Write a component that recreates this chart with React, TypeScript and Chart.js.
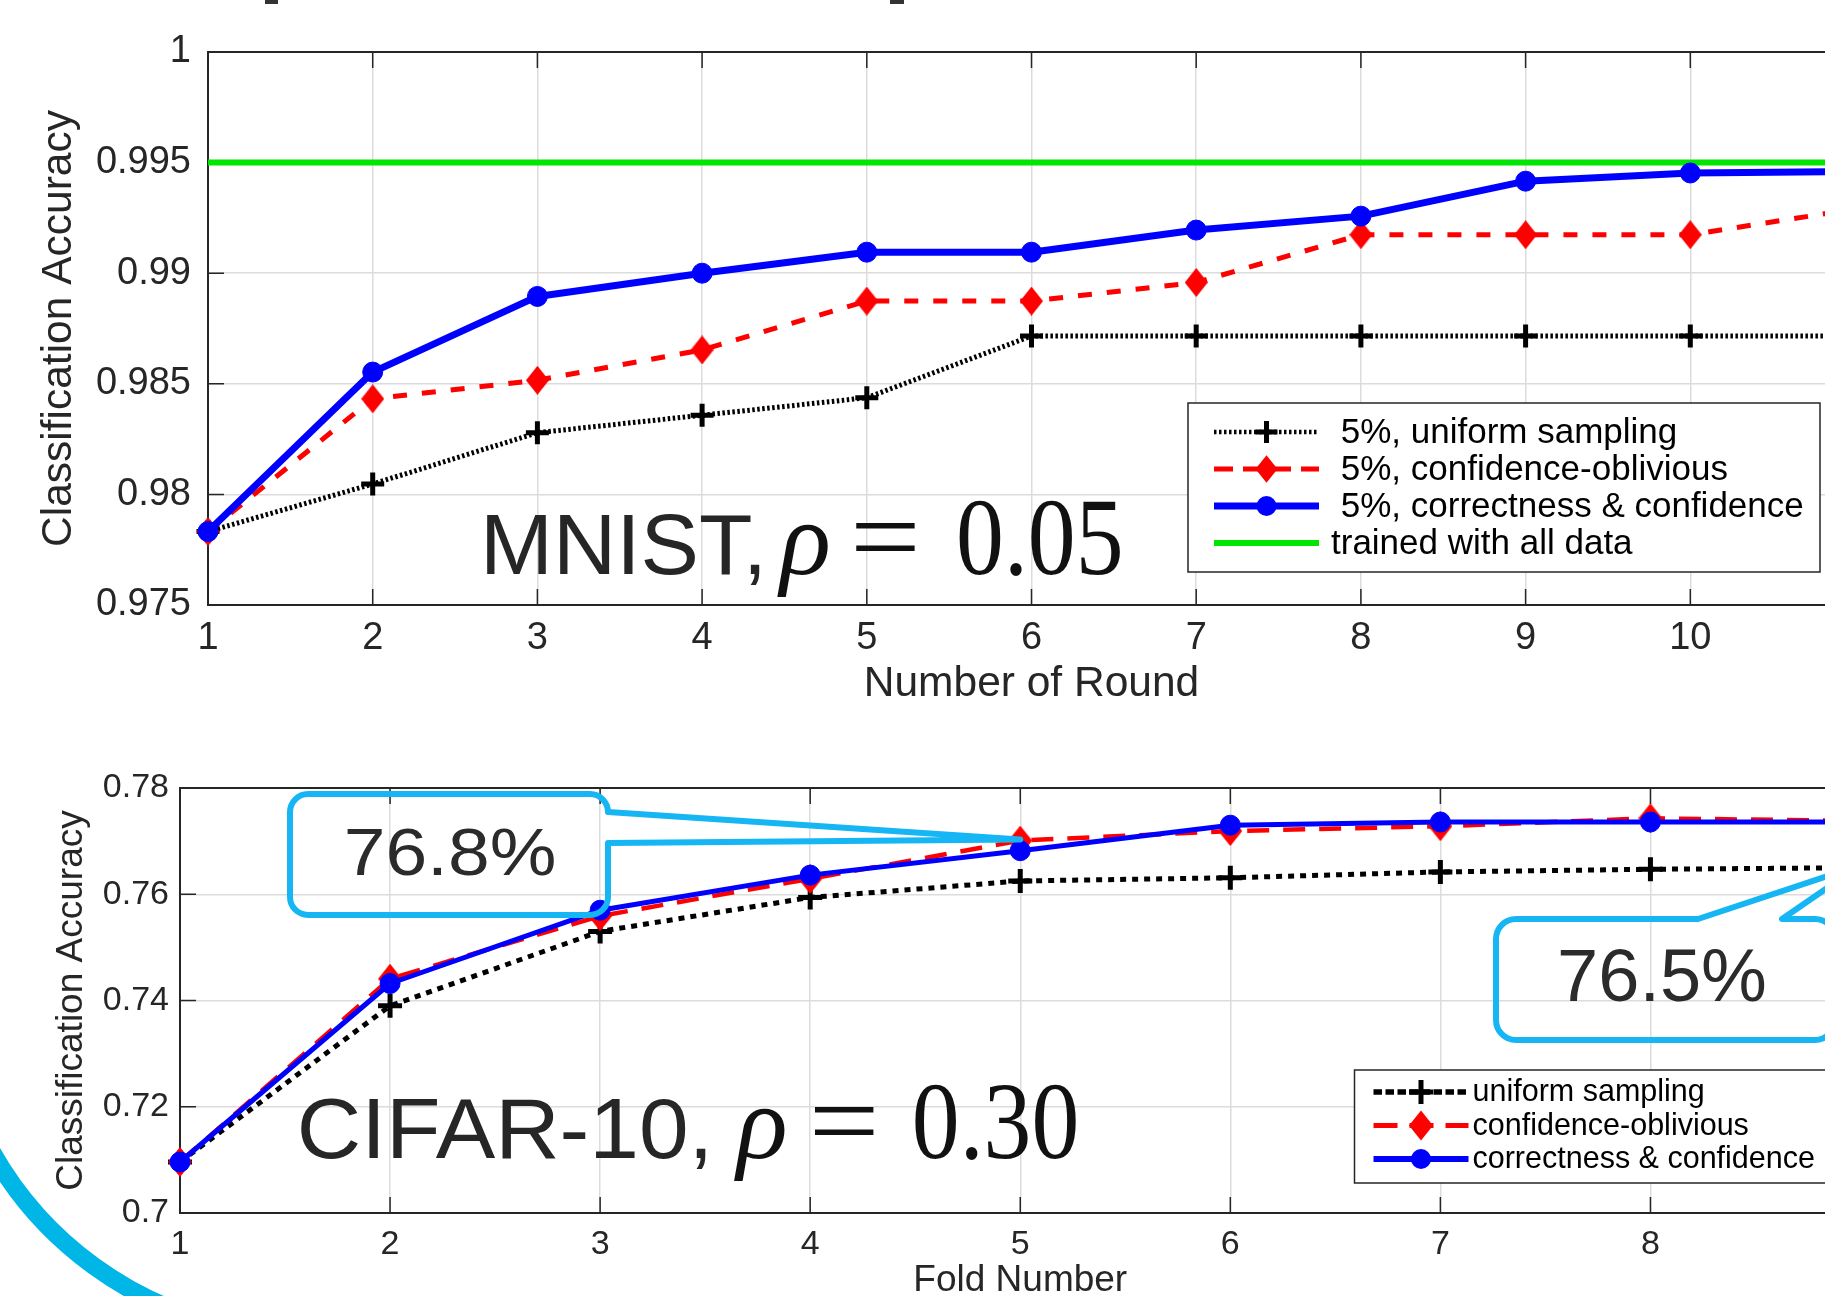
import React, { useEffect, useRef } from 'react';
import { Chart, registerables } from 'chart.js';

Chart.register(...registerables);

const FONT = "'Liberation Sans', Arial, Helvetica, sans-serif";
const SERIF = "'Liberation Serif', 'DejaVu Serif', 'Times New Roman', serif";
const INK = '#262626';
const GRID = '#dcdcdc';
const CYAN = '#16b6f5';
const ARC = '#00b6e6';

// ---------------- MNIST (top panel) ----------------
const rounds = [1, 2, 3, 4, 5, 6, 7, 8, 9, 10, 11];
const roundTickLabels = ['1', '2', '3', '4', '5', '6', '7', '8', '9', '10', '11'];
const mnistUniform = [0.97832, 0.98047, 0.98279, 0.98358, 0.98437, 0.98716, 0.98716, 0.98716, 0.98716, 0.98716, 0.98716];
const mnistOblivious = [0.97832, 0.98432, 0.98516, 0.98653, 0.98874, 0.98874, 0.98958, 0.99174, 0.99174, 0.99174, 0.9929];
const mnistCorrect = [0.97832, 0.98553, 0.98895, 0.99, 0.99095, 0.99095, 0.99195, 0.99258, 0.99416, 0.99453, 0.9946];
const mnistAllData = [0.995, 0.995, 0.995, 0.995, 0.995, 0.995, 0.995, 0.995, 0.995, 0.995, 0.995];
const mnistYTicks = [0.975, 0.98, 0.985, 0.99, 0.995, 1];
const mnistYTickLabels = ['0.975', '0.98', '0.985', '0.99', '0.995', '1'];
const mnistLegend = [' 5%, uniform sampling', ' 5%, confidence-oblivious', ' 5%, correctness & confidence', 'trained with all data'];
const mnistCaption = ['MNIST,', 'ρ', '=', '0.05'];

// ---------------- CIFAR-10 (bottom panel) ----------------
const folds = [1, 2, 3, 4, 5, 6, 7, 8, 9];
const foldTickLabels = ['1', '2', '3', '4', '5', '6', '7', '8', '9'];
const cifarUniform = [0.7096, 0.739, 0.753, 0.7594, 0.7625, 0.7631, 0.7642, 0.7647, 0.765];
const cifarOblivious = [0.7096, 0.7441, 0.7559, 0.7629, 0.7701, 0.7719, 0.7728, 0.7743, 0.7738];
const cifarCorrect = [0.7096, 0.7432, 0.757, 0.7636, 0.7682, 0.773, 0.7736, 0.7736, 0.7736];
const cifarYTicks = [0.7, 0.72, 0.74, 0.76, 0.78];
const cifarYTickLabels = ['0.7', '0.72', '0.74', '0.76', '0.78'];
const cifarLegend = ['uniform sampling', 'confidence-oblivious', 'correctness & confidence'];
const cifarCaption = ['CIFAR-10,', 'ρ', '=', '0.30'];
const calloutLabels = ['76.8%', '76.5%'];
const calloutFold = [5, 9];
const calloutValue = [0.7703, 0.7655];

// ---------------- helpers ----------------
function diamond(w: number, h: number, color: string) {
  const c = document.createElement('canvas');
  c.width = w;
  c.height = h;
  const g = c.getContext('2d')!;
  g.fillStyle = color;
  g.beginPath();
  g.moveTo(w / 2, 0);
  g.lineTo(w, h / 2);
  g.lineTo(w / 2, h);
  g.lineTo(0, h / 2);
  g.closePath();
  g.fill();
  return c;
}

type Style = { color: string; width: number; dash: number[]; marker: any; radius: number; markerWidth: number };

function series(label: string, xs: number[], ys: number[], s: Style) {
  return {
    label,
    data: xs.map((x, i) => ({ x, y: ys[i] })),
    borderColor: s.color,
    backgroundColor: s.color,
    borderWidth: s.width,
    borderDash: s.dash,
    borderCapStyle: 'butt',
    borderJoinStyle: 'round',
    pointStyle: s.marker,
    pointRadius: s.radius,
    pointHoverRadius: s.radius,
    pointBorderWidth: s.markerWidth,
    pointBackgroundColor: s.color,
    pointBorderColor: s.color,
    tension: 0,
    clip: false,
    fill: false,
  };
}

function axes(o: any) {
  return {
    x: {
      type: 'linear',
      min: o.xMin,
      max: o.xMax,
      afterBuildTicks: (s: any) => {
        s.ticks = o.xTicks.map((v: number) => ({ value: v }));
      },
      afterFit: (s: any) => {
        s.height = o.xHeight;
      },
      ticks: {
        autoSkip: false,
        maxRotation: 0,
        padding: o.xTickPad,
        color: INK,
        font: { family: FONT, size: o.tickSize },
        callback: (v: number) => o.xLabels[o.xTicks.indexOf(v)] ?? '',
      },
      grid: { color: GRID, lineWidth: 1.5, drawTicks: false },
      border: { display: true, color: INK, width: 2 },
      title: {
        display: true,
        text: o.xTitle,
        color: INK,
        font: { family: FONT, size: o.xTitleSize },
        padding: { top: 0, bottom: o.xTitlePad },
      },
    },
    y: {
      type: 'linear',
      min: o.yMin,
      max: o.yMax,
      afterBuildTicks: (s: any) => {
        s.ticks = o.yTicks.map((v: number) => ({ value: v }));
      },
      afterFit: (s: any) => {
        s.width = o.yWidth;
      },
      ticks: {
        autoSkip: false,
        padding: o.yTickPad,
        color: INK,
        font: { family: FONT, size: o.tickSize },
        callback: (v: number) => o.yLabels[o.yTicks.indexOf(v)] ?? '',
      },
      grid: { color: GRID, lineWidth: 1.5, drawTicks: false },
      border: { display: true, color: INK, width: 2 },
      title: {
        display: true,
        text: 'Classification Accuracy',
        color: INK,
        font: { family: FONT, size: o.yTitleSize },
        padding: { top: o.yTitlePad, bottom: 0 },
      },
    },
  };
}

function innerTicks(chart: any) {
  const { ctx, chartArea: a } = chart;
  const x = chart.scales.x;
  const y = chart.scales.y;
  ctx.save();
  ctx.strokeStyle = INK;
  ctx.lineWidth = 1.5;
  ctx.beginPath();
  for (const t of x.ticks) {
    const p = x.getPixelForValue(t.value);
    ctx.moveTo(p, a.bottom);
    ctx.lineTo(p, a.bottom - 16);
    ctx.moveTo(p, a.top);
    ctx.lineTo(p, a.top + 16);
  }
  for (const t of y.ticks) {
    const p = y.getPixelForValue(t.value);
    ctx.moveTo(a.left, p);
    ctx.lineTo(a.left + 16, p);
  }
  ctx.stroke();
  ctx.lineWidth = 2;
  ctx.beginPath();
  ctx.moveTo(a.left, a.top);
  ctx.lineTo(a.right, a.top);
  ctx.stroke();
  ctx.restore();
}

function drawMarker(ctx: CanvasRenderingContext2D, kind: string, x: number, y: number, color: string, size: number, lw: number) {
  ctx.save();
  ctx.setLineDash([]);
  ctx.fillStyle = color;
  ctx.strokeStyle = color;
  if (kind === 'plus') {
    ctx.lineWidth = lw;
    ctx.beginPath();
    ctx.moveTo(x - size, y);
    ctx.lineTo(x + size, y);
    ctx.moveTo(x, y - size);
    ctx.lineTo(x, y + size);
    ctx.stroke();
  } else if (kind === 'circle') {
    ctx.beginPath();
    ctx.arc(x, y, size, 0, Math.PI * 2);
    ctx.fill();
  } else if (kind === 'diamond') {
    const w = size;
    const h = size * 1.25;
    ctx.beginPath();
    ctx.moveTo(x, y - h);
    ctx.lineTo(x + w, y);
    ctx.lineTo(x, y + h);
    ctx.lineTo(x - w, y);
    ctx.closePath();
    ctx.fill();
  }
  ctx.restore();
}

type LegendItem = { text: string; color: string; width: number; dash: number[]; marker: string; msize: number; mwidth: number };

function drawLegend(
  ctx: CanvasRenderingContext2D,
  l: number,
  t: number,
  w: number,
  h: number,
  items: LegendItem[],
  row0: number,
  step: number,
  s0: number,
  s1: number,
  tx: number,
  size: number
) {
  ctx.save();
  ctx.fillStyle = '#ffffff';
  ctx.fillRect(l, t, w, h);
  ctx.strokeStyle = INK;
  ctx.lineWidth = 1.5;
  ctx.strokeRect(l, t, w, h);
  items.forEach((it, i) => {
    const y = t + row0 + i * step;
    ctx.save();
    ctx.strokeStyle = it.color;
    ctx.lineWidth = it.width;
    ctx.lineCap = 'butt';
    ctx.setLineDash(it.dash);
    ctx.beginPath();
    ctx.moveTo(l + s0, y);
    ctx.lineTo(l + s1, y);
    ctx.stroke();
    ctx.restore();
    drawMarker(ctx, it.marker, l + (s0 + s1) / 2, y, it.color, it.msize, it.mwidth);
    ctx.fillStyle = '#000';
    ctx.font = `${size}px ${FONT}`;
    ctx.textAlign = 'left';
    ctx.textBaseline = 'middle';
    ctx.fillText(it.text, l + tx, y + 1);
  });
  ctx.restore();
}

function drawCaption(ctx: CanvasRenderingContext2D, parts: string[], x0: number, base: number, sx: number) {
  ctx.save();
  ctx.fillStyle = INK;
  ctx.textAlign = 'left';
  ctx.textBaseline = 'alphabetic';
  ctx.translate(x0, base);
  ctx.scale(sx, 1);
  ctx.font = `85px ${FONT}`;
  ctx.fillText(parts[0], 0, 0);
  ctx.restore();
}

function drawFormula(ctx: CanvasRenderingContext2D, parts: string[], xr: number, xe: number, xd: number, base: number) {
  ctx.save();
  ctx.fillStyle = '#111';
  ctx.textAlign = 'left';
  ctx.textBaseline = 'alphabetic';
  ctx.font = `italic 106px ${SERIF}`;
  ctx.fillText(parts[1], xr, base);
  ctx.save();
  ctx.translate(xe, base);
  ctx.scale(1.12, 1);
  ctx.font = `112px ${SERIF}`;
  ctx.fillText(parts[2], 0, 0);
  ctx.restore();
  ctx.translate(xd, base);
  ctx.scale(0.87, 1);
  ctx.font = `110px ${SERIF}`;
  ctx.fillText(parts[3], 0, 0);
  ctx.restore();
}

function roundRectPathRightTail(ctx: CanvasRenderingContext2D, l: number, t: number, r: number, b: number, R: number, ya: number, yb: number, tx: number, ty: number) {
  ctx.beginPath();
  ctx.moveTo(l + R, t);
  ctx.lineTo(r - R, t);
  ctx.arcTo(r, t, r, t + R, R);
  ctx.lineTo(r, ya);
  ctx.lineTo(tx, ty);
  ctx.lineTo(r, yb);
  ctx.lineTo(r, b - R);
  ctx.arcTo(r, b, r - R, b, R);
  ctx.lineTo(l + R, b);
  ctx.arcTo(l, b, l, b - R, R);
  ctx.lineTo(l, t + R);
  ctx.arcTo(l, t, l + R, t, R);
  ctx.closePath();
}

function roundRectPathTopTail(ctx: CanvasRenderingContext2D, l: number, t: number, r: number, b: number, R: number, xa: number, xb: number, tx: number, ty: number) {
  ctx.beginPath();
  ctx.moveTo(l + R, t);
  ctx.lineTo(xa, t);
  ctx.lineTo(tx, ty);
  ctx.lineTo(xb, t);
  ctx.lineTo(r - R, t);
  ctx.arcTo(r, t, r, t + R, R);
  ctx.lineTo(r, b - R);
  ctx.arcTo(r, b, r - R, b, R);
  ctx.lineTo(l + R, b);
  ctx.arcTo(l, b, l, b - R, R);
  ctx.lineTo(l, t + R);
  ctx.arcTo(l, t, l + R, t, R);
  ctx.closePath();
}

function drawSquashedText(ctx: CanvasRenderingContext2D, text: string, cx: number, base: number, size: number, sy: number) {
  ctx.save();
  ctx.translate(cx, base);
  ctx.scale(1, sy);
  ctx.font = `${size}px ${FONT}`;
  ctx.textAlign = 'center';
  ctx.textBaseline = 'alphabetic';
  ctx.fillText(text, 0, 0);
  ctx.restore();
}

// ---------------- chart factories ----------------
function makeMnist(canvas: HTMLCanvasElement) {
  const datasets = [
    series(mnistLegend[2], rounds, mnistCorrect, { color: '#0000ff', width: 7, dash: [], marker: 'circle', radius: 10, markerWidth: 1 }),
    series(mnistLegend[1], rounds, mnistOblivious, { color: '#ff0000', width: 5, dash: [14, 15], marker: diamond(23, 29, '#ff0000'), radius: 12, markerWidth: 0 }),
    series(mnistLegend[0], rounds, mnistUniform, { color: '#000000', width: 5, dash: [2.5, 2.5], marker: 'cross', radius: 11.5, markerWidth: 5 }),
    series(mnistLegend[3], rounds, mnistAllData, { color: '#00e600', width: 6, dash: [], marker: 'circle', radius: 0, markerWidth: 0 }),
  ];
  const legendItems: LegendItem[] = [
    { text: mnistLegend[0], color: '#000', width: 4.5, dash: [2.5, 2.5], marker: 'plus', msize: 11, mwidth: 5 },
    { text: mnistLegend[1], color: '#ff0000', width: 5, dash: [19, 10], marker: 'diamond', msize: 11, mwidth: 0 },
    { text: mnistLegend[2], color: '#0000ff', width: 7, dash: [], marker: 'circle', msize: 10, mwidth: 0 },
    { text: mnistLegend[3], color: '#00e600', width: 6, dash: [], marker: 'none', msize: 0, mwidth: 0 },
  ];
  const plugin = {
    id: 'mnistDecor',
    beforeDatasetsDraw: (chart: any) => innerTicks(chart),
    afterDraw: (chart: any) => {
      const ctx = chart.ctx as CanvasRenderingContext2D;
      const a = chart.chartArea;
      const xs = chart.scales.x;
      const ys = chart.scales.y;
      // cropped remnants of the text above the figure
      ctx.save();
      ctx.fillStyle = '#333';
      ctx.fillRect(265, 0, 13, 4);
      ctx.fillRect(890, 0, 14, 4);
      ctx.restore();
      // caption anchored in data space
      const cx = xs.getPixelForValue(2.652);
      const cb = ys.getPixelForValue(0.9764);
      drawCaption(ctx, mnistCaption, cx, cb, 1.03);
      drawFormula(ctx, mnistCaption, cx + 300, cx + 370, cx + 476, cb);
      // legend (south-east, inside)
      const w = 632;
      const h = 169;
      const r = a.right - 35;
      const b = a.bottom - 33;
      drawLegend(ctx, r - w, b - h, w, h, legendItems, 29, 37, 26, 131, 143, 35);
    },
  };
  return new Chart(canvas, {
    type: 'line',
    data: { datasets } as any,
    options: {
      responsive: false,
      animation: false,
      layout: { padding: { left: 0, top: 52, right: 145, bottom: 0 } },
      plugins: { legend: { display: false }, tooltip: { enabled: false } },
      scales: axes({
        xMin: 1,
        xMax: 11,
        xTicks: rounds,
        xLabels: roundTickLabels,
        xHeight: 115,
        xTickPad: 11,
        tickSize: 38,
        xTitle: 'Number of Round',
        xTitleSize: 42.5,
        xTitlePad: 10,
        yMin: 0.975,
        yMax: 1,
        yTicks: mnistYTicks,
        yLabels: mnistYTickLabels,
        yWidth: 208,
        yTickPad: 17,
        yTitleSize: 42.5,
        yTitlePad: 34,
      }) as any,
    },
    plugins: [plugin],
  });
}

function makeCifar(canvas: HTMLCanvasElement) {
  const datasets = [
    series(cifarLegend[2], folds, cifarCorrect, { color: '#0000ff', width: 5, dash: [], marker: 'circle', radius: 10, markerWidth: 1 }),
    series(cifarLegend[1], folds, cifarOblivious, { color: '#ff0000', width: 4.5, dash: [22, 14], marker: diamond(24, 30, '#ff0000'), radius: 12, markerWidth: 0 }),
    series(cifarLegend[0], folds, cifarUniform, { color: '#000000', width: 5, dash: [6, 6], marker: 'cross', radius: 12, markerWidth: 5 }),
  ];
  const legendItems: LegendItem[] = [
    { text: cifarLegend[0], color: '#000', width: 5.5, dash: [8.5, 3.5], marker: 'plus', msize: 12, mwidth: 5 },
    { text: cifarLegend[1], color: '#ff0000', width: 5, dash: [24, 12], marker: 'diamond', msize: 12, mwidth: 0 },
    { text: cifarLegend[2], color: '#0000ff', width: 6, dash: [], marker: 'circle', msize: 10, mwidth: 0 },
  ];
  const plugin = {
    id: 'cifarDecor',
    beforeDatasetsDraw: (chart: any) => innerTicks(chart),
    afterDraw: (chart: any) => {
      const ctx = chart.ctx as CanvasRenderingContext2D;
      const a = chart.chartArea;
      const xs = chart.scales.x;
      const ys = chart.scales.y;
      // caption
      const cx = xs.getPixelForValue(1.556);
      const cb = ys.getPixelForValue(0.71035);
      drawCaption(ctx, cifarCaption, cx, cb, 1.05);
      drawFormula(ctx, cifarCaption, cx + 440, cx + 512, cx + 615, cb);
      // legend
      const w = 476;
      const h = 113;
      const r = a.right - 30;
      const b = a.bottom - 30;
      drawLegend(ctx, r - w, b - h, w, h, legendItems, 22, 33.5, 19, 114, 118, 30.5);
      // callouts
      ctx.save();
      ctx.strokeStyle = CYAN;
      ctx.lineWidth = 6;
      ctx.lineJoin = 'round';
      const t1x = xs.getPixelForValue(calloutFold[0]);
      const t1y = ys.getPixelForValue(calloutValue[0]);
      roundRectPathRightTail(ctx, 290, 54, 608, 175, 18, 72, 103, t1x, t1y);
      ctx.stroke();
      const t2x = xs.getPixelForValue(calloutFold[1]);
      const t2y = ys.getPixelForValue(calloutValue[1]);
      roundRectPathTopTail(ctx, 1496, 179, 1835, 300, 20, 1698, 1782, t2x, t2y);
      ctx.stroke();
      ctx.fillStyle = '#2b2b2b';
      drawSquashedText(ctx, calloutLabels[0], 450, 135, 75, 0.88);
      drawSquashedText(ctx, calloutLabels[1], 1662, 261, 74, 1);
      ctx.restore();
      // big cyan arc in the lower-left corner
      ctx.save();
      ctx.strokeStyle = ARC;
      ctx.lineWidth = 18;
      ctx.beginPath();
      ctx.arc(306, 234, 361, (100 * Math.PI) / 180, (152 * Math.PI) / 180);
      ctx.stroke();
      ctx.restore();
    },
  };
  return new Chart(canvas, {
    type: 'line',
    data: { datasets } as any,
    options: {
      responsive: false,
      animation: false,
      layout: { padding: { left: 0, top: 48, right: 139.5, bottom: 0 } },
      plugins: { legend: { display: false }, tooltip: { enabled: false } },
      scales: axes({
        xMin: 1,
        xMax: 9,
        xTicks: folds,
        xLabels: foldTickLabels,
        xHeight: 127,
        xTickPad: 11,
        tickSize: 34,
        xTitle: 'Fold Number',
        xTitleSize: 37,
        xTitlePad: 37,
        yMin: 0.7,
        yMax: 0.78,
        yTicks: cifarYTicks,
        yLabels: cifarYTickLabels,
        yWidth: 180,
        yTickPad: 11,
        yTitleSize: 37,
        yTitlePad: 50,
      }) as any,
    },
    plugins: [plugin],
  });
}

function ChartCanvas(props: { make: (c: HTMLCanvasElement) => Chart; left: number; top: number; width: number; height: number }) {
  const ref = useRef<HTMLCanvasElement | null>(null);
  useEffect(() => {
    if (!ref.current) return;
    const chart = props.make(ref.current);
    return () => chart.destroy();
  }, []);
  return (
    <canvas
      ref={ref}
      width={props.width}
      height={props.height}
      style={{ position: 'absolute', left: props.left, top: props.top, width: props.width, height: props.height, display: 'block' }}
    />
  );
}

export default function App() {
  return (
    <div
      style={{
        position: 'fixed',
        left: 0,
        top: 0,
        width: 1825,
        height: 1296,
        overflow: 'hidden',
        background: '#ffffff',
      }}
    >
      <ChartCanvas make={makeMnist} left={0} top={0} width={2000} height={720} />
      <ChartCanvas make={makeCifar} left={0} top={740} width={2000} height={600} />
    </div>
  );
}
